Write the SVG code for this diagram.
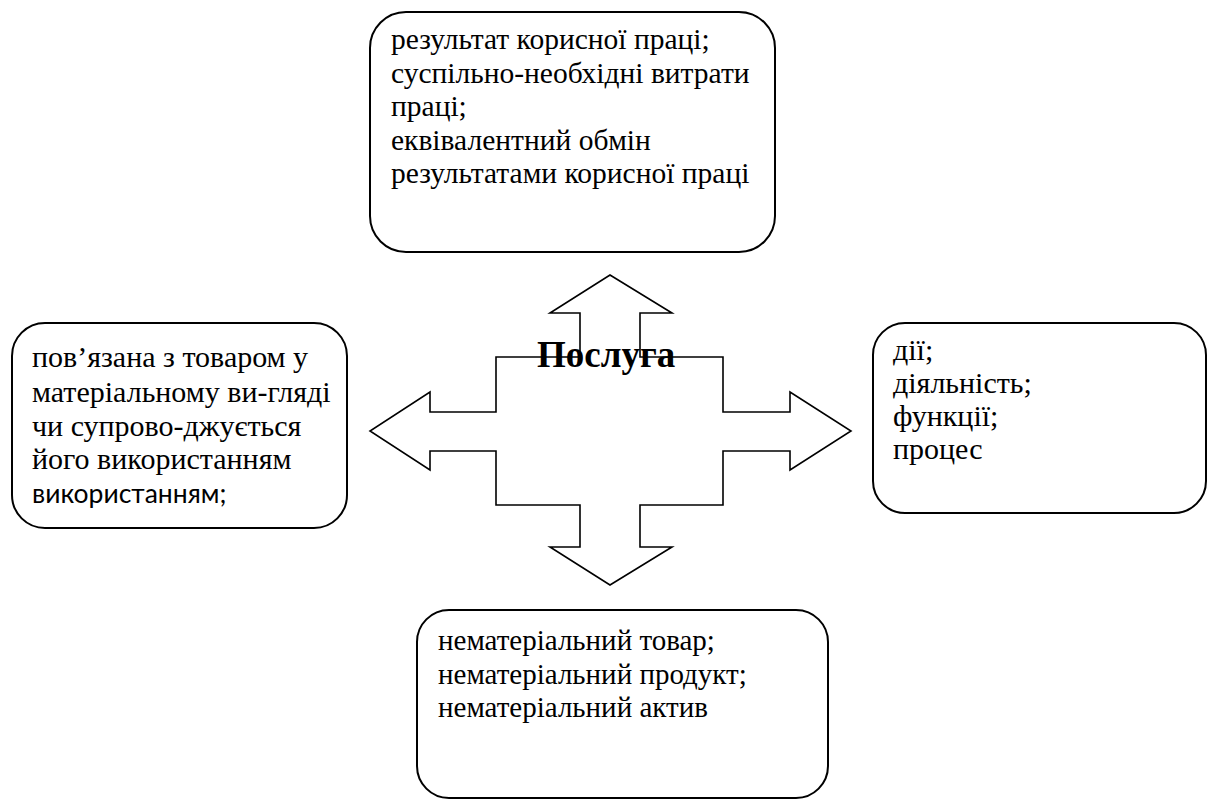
<svg xmlns="http://www.w3.org/2000/svg" width="1208" height="801" viewBox="0 0 1208 801">
<style>
.box{fill:#fff;stroke:#000;stroke-width:2}
.t{font-family:'Liberation Serif','Times New Roman',serif;font-size:30px;fill:#000}
.t29{font-size:29px}
.t295{font-size:29.5px}
.s{font-family:Lato,'Open Sans',sans-serif;font-size:26.5px;fill:#000}
.arr{fill:#fff;stroke:#000;stroke-width:1.6;stroke-linejoin:miter}
.title{font-family:'Liberation Serif','Times New Roman',serif;font-size:37px;font-weight:bold;fill:#000}
</style>
<rect width="1208" height="801" fill="#fff"/>
<g id="connectors">
<polygon class="arr" points="610,275 672,313 640,313 640,357 723,357 723,412 790,412 790,392 851,431 790,470 790,451 723,451 723,505 640,505 640,547 672,547 610,585 550,547 580,547 580,505 496,505 496,451 430,451 430,470 370,431 430,392 430,412 496,412 496,357 580,357 580,313 550,313"/>
</g>
<g id="center">
<text class="title" x="537" y="367">Послуга</text>
</g>
<g id="top">
<rect class="box" x="370" y="12" width="405" height="240" rx="36" ry="36"/>
<text class="t t295" x="391" y="49">результат корисної праці;</text>
<text class="t t295" x="391" y="82.5">суспільно-необхідні витрати</text>
<text class="t t295" x="391" y="116">праці;</text>
<text class="t t295" x="391" y="149.5">еквівалентний обмін</text>
<text class="t t295" x="391" y="183">результатами корисної праці</text>
</g>
<g id="left">
<rect class="box" x="12" y="323" width="335" height="205" rx="33" ry="33"/>
<text class="t" x="32" y="367">пов’язана з товаром у</text>
<text class="t" x="32" y="402">матеріальному ви-гляді</text>
<text class="t" x="32" y="436">чи супрово-джується</text>
<text class="t" x="32" y="469">його використанням</text>
<text class="s" x="32" y="503">використанням;</text>
</g>
<g id="right">
<rect class="box" x="873" y="323" width="333" height="190" rx="32" ry="32"/>
<text class="t" x="893" y="360">дії;</text>
<text class="t" x="893" y="393">діяльність;</text>
<text class="t" x="893" y="426">функції;</text>
<text class="t" x="893" y="459">процес</text>
</g>
<g id="bottom">
<rect class="box" x="417" y="610" width="411" height="188" rx="32" ry="32"/>
<text class="t t29" x="438" y="650">нематеріальний товар;</text>
<text class="t t29" x="438" y="684">нематеріальний продукт;</text>
<text class="t t29" x="438" y="717">нематеріальний актив</text>
</g>
</svg>
